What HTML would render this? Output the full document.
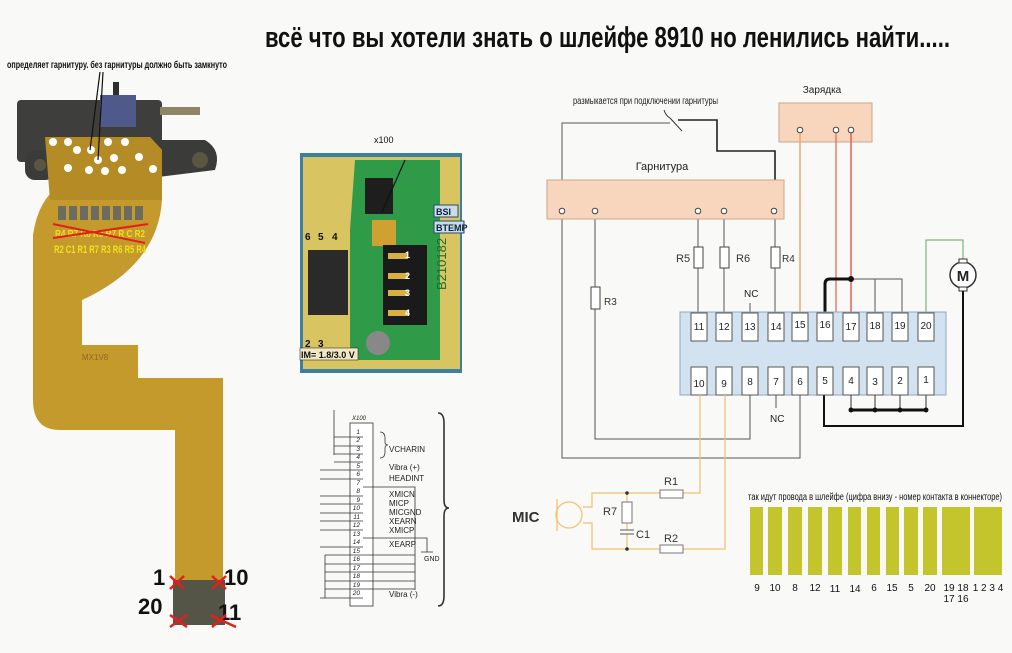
<!DOCTYPE html>
<html><head><meta charset="utf-8"><style>
html,body{margin:0;padding:0;background:#f9f9f7}
svg{display:block}
text{font-family:"Liberation Sans Narrow","Liberation Sans",sans-serif}
</style></head><body>
<svg width="1012" height="653" viewBox="0 0 1012 653" xmlns="http://www.w3.org/2000/svg">
<rect width="1012" height="653" fill="#f9f9f7"/>
<!-- title -->
<text x="265" y="47" font-size="29" font-weight="bold" textLength="685" lengthAdjust="spacingAndGlyphs" fill="#111">всё что вы хотели знать о шлейфе 8910 но ленились найти.....</text>

<!-- LEFT FLEX PHOTO -->
<text x="7" y="68" font-size="10" font-weight="bold" textLength="220" lengthAdjust="spacingAndGlyphs" fill="#111">определяет гарнитуру. без гарнитуры должно быть замкнуто</text>
<rect x="17" y="100" width="145" height="62" rx="4" fill="#3e3f3c"/>
<rect x="113" y="82" width="6" height="20" fill="#2e2e2c"/>
<rect x="100" y="95" width="36" height="32" fill="#4f5a8a"/>
<rect x="160" y="107" width="40" height="8" fill="#8f8466"/>
<path d="M150,140 L205,140 Q222,150 215,170 L150,178 Z" fill="#3b3c39"/>
<circle cx="200" cy="160" r="8" fill="#5a5642"/>
<rect x="25" y="150" width="30" height="30" rx="10" fill="#3b3c39"/>
<circle cx="40" cy="165" r="6" fill="#5a5642"/>
<path d="M45,137 L150,137 L162,150 L162,200 Q158,265 82,300 L82,345 L138,345 L138,378 L223,378 L223,600 L175,600 L175,430 L60,430 Q33,430 33,400 L33,235 Q38,200 60,185 Z" fill="#c59a2c"/>
<path d="M45,137 L150,137 L162,150 L162,200 L50,200 Z" fill="#b58b25"/>
<g fill="#fff">
<circle cx="53" cy="142" r="4"/><circle cx="68" cy="142" r="4"/><circle cx="108" cy="142" r="4"/><circle cx="125" cy="142" r="4"/>
<circle cx="77" cy="150" r="4"/><circle cx="91" cy="150" r="4"/><circle cx="114" cy="158" r="4"/><circle cx="139" cy="157" r="4"/>
<circle cx="68" cy="168" r="4"/><circle cx="89" cy="170" r="4"/><circle cx="105" cy="171" r="4"/><circle cx="122" cy="170" r="4"/><circle cx="153" cy="169" r="4"/><circle cx="98" cy="160" r="4"/>
</g>
<line x1="100" y1="72" x2="90" y2="150" stroke="#111" stroke-width="1.2"/>
<line x1="103" y1="72" x2="98" y2="160" stroke="#111" stroke-width="1.2"/>
<g fill="#6b6b60">
<rect x="58" y="206" width="8" height="14"/><rect x="69" y="206" width="8" height="14"/><rect x="80" y="206" width="8" height="14"/><rect x="91" y="206" width="8" height="14"/><rect x="102" y="206" width="8" height="14"/><rect x="113" y="206" width="8" height="14"/><rect x="124" y="206" width="8" height="14"/><rect x="135" y="206" width="8" height="14"/>
</g>
<text x="55" y="237" font-size="10" font-weight="bold" fill="#f0e020" textLength="90" lengthAdjust="spacingAndGlyphs">R4 R7 R8 R3 R7 R C R2</text>
<line x1="53" y1="238" x2="148" y2="224" stroke="#e0201a" stroke-width="2"/>
<line x1="53" y1="224" x2="145" y2="243" stroke="#e0201a" stroke-width="2"/>
<text x="54" y="253" font-size="11" font-weight="bold" fill="#f0e020" textLength="92" lengthAdjust="spacingAndGlyphs">R2 C1 R1 R7 R3 R6 R5 R4</text>
<text x="82" y="360" font-size="8" fill="#8a6a20">MX1V8</text>
<rect x="173" y="580" width="52" height="45" fill="#555547"/>
<text x="153" y="585" font-size="22" font-weight="bold" fill="#111">1</text>
<text x="224" y="585" font-size="22" font-weight="bold" fill="#111">10</text>
<text x="138" y="614" font-size="22" font-weight="bold" fill="#111">20</text>
<text x="218" y="620" font-size="22" font-weight="bold" fill="#111">11</text>
<g stroke="#e0201a" stroke-width="2.5">
<line x1="170" y1="576" x2="184" y2="589"/><line x1="184" y1="576" x2="170" y2="589"/>
<line x1="212" y1="576" x2="226" y2="589"/><line x1="226" y1="576" x2="212" y2="589"/>
<line x1="170" y1="615" x2="187" y2="627"/><line x1="187" y1="615" x2="170" y2="627"/>
<line x1="210" y1="615" x2="236" y2="627"/><line x1="226" y1="615" x2="212" y2="627"/>
</g>

<!-- MIDDLE PCB PHOTO -->
<text x="374" y="143" font-size="9" fill="#111">x100</text>
<rect x="300" y="153" width="162" height="220" fill="#3c7fa0"/>
<rect x="303" y="157" width="157" height="212" fill="#d8c460"/>
<path d="M355,160 L440,160 L440,360 L350,360 L350,230 Z" fill="#2f9a48"/>
<rect x="365" y="178" width="28" height="36" fill="#1e1e1e"/>
<rect x="372" y="220" width="24" height="26" fill="#d0a030"/>
<rect x="383" y="245" width="44" height="80" fill="#1a1a1a"/>
<g fill="#d8b040"><rect x="388" y="253" width="20" height="6"/><rect x="388" y="273" width="20" height="6"/><rect x="388" y="290" width="20" height="6"/><rect x="388" y="310" width="20" height="6"/></g>
<g font-size="9" font-weight="bold" fill="#fff"><text x="405" y="258">1</text><text x="405" y="279">2</text><text x="405" y="296">3</text><text x="405" y="316">4</text></g>
<rect x="308" y="250" width="40" height="65" fill="#2a2a2a"/>
<g font-size="10" font-weight="bold" fill="#111"><text x="305" y="240">6</text><text x="318" y="240">5</text><text x="332" y="240">4</text><text x="305" y="347">2</text><text x="318" y="347">3</text></g>
<circle cx="378" cy="343" r="12" fill="#888"/>
<line x1="405" y1="160" x2="382" y2="212" stroke="#111" stroke-width="1.2"/>
<rect x="434" y="205" width="24" height="12" fill="#c8dde8" stroke="#2a4a6a"/><text x="436" y="215" font-size="9" font-weight="bold" fill="#102040">BSI</text>
<rect x="434" y="221" width="30" height="12" fill="#c8dde8" stroke="#2a4a6a"/><text x="436" y="231" font-size="9" font-weight="bold" fill="#102040">BTEMP</text>
<text x="446" y="290" font-size="13" fill="#1a6a30" transform="rotate(-90 446 290)">B210182</text>
<rect x="300" y="348" width="58" height="12" fill="#f0e8c0" stroke="#333" stroke-width=".6"/>
<text x="301" y="358" font-size="9" font-weight="bold" fill="#111">IM= 1.8/3.0 V</text>

<!-- X100 schematic -->
<text x="352" y="420" font-size="6" font-style="italic" fill="#222">X100</text>
<rect x="350" y="423" width="23" height="183" fill="#fff" stroke="#333" stroke-width=".8"/>
<g font-size="6.5" font-style="italic" fill="#222" text-anchor="end">
<text x="360" y="434">1</text><text x="360" y="442">2</text><text x="360" y="451">3</text><text x="360" y="459">4</text><text x="360" y="468">5</text><text x="360" y="476">6</text><text x="360" y="485">7</text><text x="360" y="493">8</text><text x="360" y="502">9</text><text x="360" y="510">10</text><text x="360" y="519">11</text><text x="360" y="527">12</text><text x="360" y="536">13</text><text x="360" y="544">14</text><text x="360" y="553">15</text><text x="360" y="561">16</text><text x="360" y="570">17</text><text x="360" y="578">18</text><text x="360" y="587">19</text><text x="360" y="595">20</text>
</g>
<g stroke="#333" stroke-width=".8" fill="none">
<line x1="334" y1="410" x2="334" y2="455"/>
<path d="M334,437 H363 M334,446 H363 M334,454 H363 M334,462 H363"/>
<path d="M320,470 H363 M320,479 H363 M320,496 H363 M320,504 H363 M320,513 H363 M320,521 H363 M320,530 H363 M320,547 H363 M320,598 H363"/>
<path d="M363,487 H415 V555 M363,538 H427 V552 M421,552 H433"/>
<path d="M325,555 V598 M325,555 H415 M325,564 H415 M325,572 H415 M325,581 H415 M325,589 H415 M415,555 V590"/>
<path d="M380,432 q5,0 5,6 v4 q0,3 3,3 q-3,0 -3,3 v4 q0,6 -5,6" />
<path d="M438,413 q6,0 6,10 v77 q0,8 5,8 q-5,0 -5,8 v80 q0,10 -6,10" stroke-width="1.6"/>
</g>
<g font-size="8" fill="#222">
<text x="389" y="452">VCHARIN</text><text x="389" y="470">Vibra (+)</text><text x="389" y="481">HEADINT</text>
<text x="389" y="497">XMICN</text><text x="389" y="506">MICP</text><text x="389" y="515">MICGND</text><text x="389" y="524">XEARN</text><text x="389" y="533">XMICP</text>
<text x="389" y="547">XEARP</text><text x="389" y="597">Vibra (-)</text><text x="424" y="561" font-size="7">GND</text>
</g>

<!-- MAIN SCHEMATIC -->
<text x="573" y="104" font-size="10" fill="#222" textLength="145" lengthAdjust="spacingAndGlyphs">размыкается при подключении гарнитуры</text>
<path d="M664,110 q2,6 6,8" stroke="#333" fill="none"/>
<g fill="none" stroke="#555" stroke-width="1">
<path d="M562,211 V123 H670"/>
<path d="M595,211 V287 M595,309 V439 H750 V395"/>
<path d="M562,211 V458 H800 V395"/>
<path d="M698,219 V247 M698,268 V313"/>
<path d="M724,219 V247 M724,268 V313"/>
<path d="M775,219 V247 M775,268 V313"/>
<path d="M750,303 V313"/>
<path d="M776,395 V408"/>
<path d="M851,279 H902 V313 M875,279 V313"/>
</g>
<path d="M670,118 L682,131" stroke="#333" stroke-width="1"/>
<path d="M678,120 H717 V151 H775 V211" stroke="#222" stroke-width="1.6" fill="none"/>
<text x="572" y="220" font-size="10" fill="#222" display="none">.</text>
<!-- Garnitura box -->
<rect x="547" y="180" width="237" height="39" fill="#f7d6bd" stroke="#c9a88e"/>
<text x="662" y="170" font-size="11" fill="#222" text-anchor="middle">Гарнитура</text>
<!-- Charge box -->
<rect x="779" y="103" width="93" height="39" fill="#f7d6bd" stroke="#c9a88e"/>
<text x="822" y="93" font-size="10" fill="#222" text-anchor="middle">Зарядка</text>
<!-- colored wires -->
<path d="M800,130 V313" stroke="#f0a868" stroke-width="1.5" fill="none"/>
<path d="M851,130 V313" stroke="#e86050" stroke-width="1.5" fill="none"/>
<path d="M836,130 V349 H851 V367" stroke="#e86050" stroke-width="1.2" fill="none"/>
<path d="M926,313 V240 H963 V262" stroke="#60a860" stroke-width="1" fill="none"/>
<path d="M825,313 V284 Q825,279 830,279 H851" stroke="#111" stroke-width="3" fill="none"/>
<circle cx="851" cy="279" r="3" fill="#111"/>
<circle cx="963" cy="275" r="13" fill="#fff" stroke="#333" stroke-width="1.5"/>
<rect x="959" y="259" width="8" height="4" fill="#fff" stroke="#333"/>
<rect x="959" y="287" width="8" height="4" fill="#fff" stroke="#333"/>
<text x="963" y="281" font-size="15" font-weight="bold" text-anchor="middle" fill="#222">M</text>
<path d="M963,291 V426 H824 V395" stroke="#111" stroke-width="2" fill="none"/>
<path d="M851,395 V410 M875,395 V410 M900,395 V410 M926,395 V410" stroke="#333" fill="none"/>
<path d="M851,410 H926" stroke="#111" stroke-width="3"/>
<g fill="#111"><circle cx="851" cy="410" r="2.5"/><circle cx="875" cy="410" r="2.5"/><circle cx="900" cy="410" r="2.5"/><circle cx="926" cy="410" r="2.5"/></g>
<!-- pins on gарнитура/charge -->
<g fill="#fff" stroke="#444"><circle cx="562" cy="211" r="2.8"/><circle cx="595" cy="211" r="2.8"/><circle cx="698" cy="211" r="2.8"/><circle cx="724" cy="211" r="2.8"/><circle cx="774" cy="211" r="2.8"/>
<circle cx="800" cy="130" r="2.8"/><circle cx="836" cy="130" r="2.8"/><circle cx="851" cy="130" r="2.8"/></g>
<!-- resistors -->
<g fill="#fff" stroke="#444"><rect x="694" y="247" width="9" height="21"/><rect x="720" y="247" width="9" height="21"/><rect x="771" y="247" width="9" height="21"/><rect x="591" y="287" width="9" height="22"/></g>
<g font-size="11" fill="#333"><text x="676" y="262">R5</text><text x="736" y="262">R6</text><text x="782" y="262" font-size="10">R4</text><text x="604" y="305" font-size="10">R3</text></g>
<text x="744" y="297" font-size="10" fill="#222">NC</text>
<text x="770" y="422" font-size="10" fill="#222">NC</text>
<!-- connector -->
<rect x="680" y="312" width="266" height="83" fill="#d3e2f0" stroke="#8fa6c0"/>
<g fill="#fff" stroke="#555">
<rect x="691" y="313" width="16" height="28"/><rect x="716" y="313" width="16" height="28"/><rect x="742" y="313" width="16" height="28"/><rect x="768" y="313" width="16" height="28"/><rect x="792" y="313" width="16" height="28"/><rect x="817" y="313" width="16" height="28"/><rect x="843" y="313" width="16" height="28"/><rect x="867" y="313" width="16" height="28"/><rect x="892" y="313" width="16" height="28"/><rect x="918" y="313" width="16" height="28"/>
<rect x="691" y="367" width="16" height="28"/><rect x="716" y="367" width="16" height="28"/><rect x="742" y="367" width="16" height="28"/><rect x="768" y="367" width="16" height="28"/><rect x="792" y="367" width="16" height="28"/><rect x="817" y="367" width="16" height="28"/><rect x="843" y="367" width="16" height="28"/><rect x="867" y="367" width="16" height="28"/><rect x="892" y="367" width="16" height="28"/><rect x="918" y="367" width="16" height="28"/>
</g>
<g font-size="10" fill="#222" text-anchor="middle">
<text x="699" y="330">11</text><text x="724" y="330">12</text><text x="750" y="330">13</text><text x="776" y="330">14</text><text x="800" y="328">15</text><text x="825" y="328">16</text><text x="851" y="330">17</text><text x="875" y="329">18</text><text x="900" y="329">19</text><text x="926" y="329">20</text>
<text x="699" y="387">10</text><text x="724" y="387">9</text><text x="750" y="385">8</text><text x="776" y="385">7</text><text x="800" y="385">6</text><text x="825" y="384">5</text><text x="851" y="384">4</text><text x="875" y="385">3</text><text x="900" y="384">2</text><text x="926" y="383">1</text>
</g>
<!-- MIC circuit -->
<g fill="none" stroke="#f2c275" stroke-width="1.3">
<path d="M700,395 V493 H683 M660,493 H592 V507 H583"/>
<path d="M725,395 V549 H683 M660,549 H592 V523 H583"/>
<path d="M627,493 V502 M627,523 V530 M627,534 V549"/>
<circle cx="569" cy="515" r="13"/>
<path d="M557,499 V531"/>
</g>
<g fill="#fff" stroke="#777"><rect x="660" y="490" width="23" height="8"/><rect x="660" y="545" width="23" height="8"/><rect x="622" y="502" width="10" height="21"/></g>
<path d="M620,530 H634 M620,534 H634" stroke="#777" stroke-width="1.2"/>
<circle cx="627" cy="493" r="1.8" fill="#333"/><circle cx="627" cy="549" r="1.8" fill="#333"/>
<g font-size="11" fill="#333"><text x="664" y="485">R1</text><text x="664" y="542">R2</text><text x="603" y="515">R7</text><text x="636" y="538">C1</text></g>
<text x="512" y="522" font-size="15" font-weight="bold" fill="#333">MIC</text>
<!-- strip legend -->
<text x="748" y="500" font-size="10" fill="#111" textLength="254" lengthAdjust="spacingAndGlyphs">так идут провода в шлейфе (цифра внизу - номер контакта в коннекторе)</text>
<g fill="#c4c42c">
<rect x="750" y="507" width="13" height="68"/><rect x="768" y="507" width="14" height="68"/><rect x="788" y="507" width="14" height="68"/><rect x="808" y="507" width="14" height="68"/><rect x="828" y="507" width="14" height="68"/><rect x="848" y="507" width="13" height="68"/><rect x="867" y="507" width="13" height="68"/><rect x="886" y="507" width="13" height="68"/><rect x="904" y="507" width="14" height="68"/><rect x="923" y="507" width="14" height="68"/><rect x="942" y="507" width="28" height="68"/><rect x="974" y="507" width="28" height="68"/>
</g>
<g font-size="10" fill="#111" text-anchor="middle">
<text x="757" y="591">9</text><text x="775" y="591">10</text><text x="795" y="591">8</text><text x="815" y="591">12</text><text x="835" y="592">11</text><text x="855" y="592">14</text><text x="874" y="591">6</text><text x="892" y="591">15</text><text x="911" y="591">5</text><text x="930" y="591">20</text><text x="956" y="591">19 18</text><text x="956" y="602">17 16</text><text x="988" y="591">1 2 3 4</text>
</g>
</svg>
</body></html>
